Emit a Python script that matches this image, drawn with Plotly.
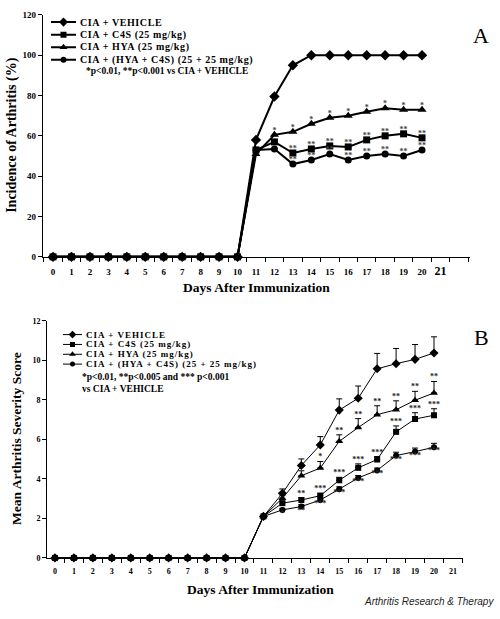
import plotly.graph_objects as go

# ---------------- data ----------------
days = [0, 1, 2, 3, 4, 5, 6, 7, 8, 9, 10, 11, 12, 13, 14, 15, 16, 17, 18, 19, 20]
x_tick_days = [0, 1, 2, 3, 4, 5, 6, 7, 8, 9, 10, 11, 12, 13, 14, 15, 16, 17, 18, 19, 20, 21]
series_names = ["CIA + VEHICLE", "CIA + C4S (25 mg/kg)", "CIA + HYA (25 mg/kg)",
                "CIA + (HYA + C4S) (25 + 25 mg/kg)"]

# Panel A: incidence of arthritis (%)
incA_vehicle = [0, 0, 0, 0, 0, 0, 0, 0, 0, 0, 0, 58, 79.5, 95, 100, 100, 100, 100, 100, 100, 100]
incA_c4s = [0, 0, 0, 0, 0, 0, 0, 0, 0, 0, 0, 53, 57, 51.5, 53.5, 55, 54.5, 58, 60, 61, 59]
incA_hya = [0, 0, 0, 0, 0, 0, 0, 0, 0, 0, 0, 51, 60.5, 62, 66, 69, 70, 72, 73.7, 73, 73]
incA_combo = [0, 0, 0, 0, 0, 0, 0, 0, 0, 0, 0, 53, 53.5, 46, 48, 51, 48, 50, 51, 50, 53]

sigA_c4s = ["", "", "", "", "", "", "", "", "", "", "", "", "", "**", "**", "**", "**", "**", "**", "**", "**"]
sigA_hya = ["", "", "", "", "", "", "", "", "", "", "", "", "*", "*", "*", "*", "*", "*", "*", "*", "*"]
sigA_combo = ["", "", "", "", "", "", "", "", "", "", "", "", "", "**", "**", "**", "**", "**", "**", "**", "**"]

# Panel B: mean arthritis severity score (+ upper SEM)
sevB_vehicle = [0, 0, 0, 0, 0, 0, 0, 0, 0, 0, 0, 2.1, 3.27, 4.68, 5.72, 7.48, 8.08, 9.57, 9.83, 10.05, 10.37]
sevB_c4s = [0, 0, 0, 0, 0, 0, 0, 0, 0, 0, 0, 2.1, 2.77, 2.93, 3.15, 3.93, 4.56, 4.98, 6.38, 7.03, 7.22]
sevB_hya = [0, 0, 0, 0, 0, 0, 0, 0, 0, 0, 0, 2.1, 3.02, 4.16, 4.55, 5.9, 6.6, 7.25, 7.5, 7.98, 8.35]
sevB_combo = [0, 0, 0, 0, 0, 0, 0, 0, 0, 0, 0, 2.1, 2.43, 2.6, 2.93, 3.48, 4.05, 4.43, 5.18, 5.38, 5.6]

errB_vehicle = [None, None, None, None, None, None, None, None, None, None, None, None,
                0.22, 0.33, 0.42, 0.57, 0.62, 0.78, 0.77, 0.75, 0.82]
errB_c4s = [None, None, None, None, None, None, None, None, None, None, None, None,
            0.1, 0.12, 0.12, 0.15, 0.2, 0.15, 0.3, 0.32, 0.33]
errB_hya = [None, None, None, None, None, None, None, None, None, None, None, None,
            0.15, 0.25, 0.33, 0.33, 0.45, 0.45, 0.45, 0.45, 0.58]
errB_combo = [None, None, None, None, None, None, None, None, None, None, None, None,
              0.08, 0.1, 0.1, 0.12, 0.12, 0.12, 0.17, 0.18, 0.2]

sigB_c4s = ["", "", "", "", "", "", "", "", "", "", "", "", "", "**", "***", "***", "***", "***", "***", "***", "***"]
sigB_hya = ["", "", "", "", "", "", "", "", "", "", "", "", "", "", "*", "**", "**", "**", "**", "**", "**"]
sigB_combo = ["", "", "", "", "", "", "", "", "", "", "", "", "*", "**", "***", "***", "***", "***", "***", "***", "***"]

noteA = "*p<0.01, **p<0.001 vs CIA + VEHICLE"
noteB = ["*p<0.01, **p<0.005 and *** p<0.001", "vs CIA + VEHICLE"]

# ---------------- styling ----------------
SERIF = "Liberation Serif"
symbols = ["diamond", "square", "triangle-up", "circle"]
sizesA = [8, 7, 8, 7]
sizesB = [7, 6, 7, 6]

fig = go.Figure()

A_vals = [incA_vehicle, incA_c4s, incA_hya, incA_combo]
B_vals = [sevB_vehicle, sevB_c4s, sevB_hya, sevB_combo]
B_errs = [errB_vehicle, errB_c4s, errB_hya, errB_combo]
draw_order = [0, 2, 3, 1]

for i in draw_order:
    fig.add_trace(go.Scatter(x=days, y=A_vals[i], mode="lines+markers", name=series_names[i],
                             line=dict(color="black", width=2),
                             marker=dict(symbol=symbols[i], size=sizesA[i], color="black"),
                             cliponaxis=False, showlegend=False, xaxis="x", yaxis="y"))

for i in draw_order:
    e = B_errs[i]
    fig.add_trace(go.Scatter(x=days, y=B_vals[i], mode="lines+markers", name=series_names[i],
                             line=dict(color="black", width=1),
                             marker=dict(symbol=symbols[i], size=sizesB[i], color="black"),
                             error_y=dict(type="data", symmetric=False, array=e,
                                          arrayminus=[0 if v is not None else None for v in e],
                                          width=3, thickness=1, color="black"),
                             cliponaxis=False, showlegend=False, xaxis="x2", yaxis="y2"))

sig_font = dict(family=SERIF, size=8, color="#444", weight="bold")
for vals, sig, pos in [(incA_hya, sigA_hya, "top center"), (incA_c4s, sigA_c4s, "top center"),
                       (incA_combo, sigA_combo, "top center")]:
    fig.add_trace(go.Scatter(x=days, y=vals, mode="text", text=sig, textposition=pos,
                             textfont=sig_font, cliponaxis=False, showlegend=False,
                             hoverinfo="skip", xaxis="x", yaxis="y"))

sig_fontB = dict(family=SERIF, size=8, color="#222", weight="bold")
top_hya = [v + (e if e is not None else 0) for v, e in zip(sevB_hya, errB_hya)]
top_c4s = [v + (e if e is not None else 0) for v, e in zip(sevB_c4s, errB_c4s)]
for vals, sig, pos in [(top_hya, sigB_hya, "top center"), (top_c4s, sigB_c4s, "top center"),
                       (sevB_combo, sigB_combo, "bottom center")]:
    fig.add_trace(go.Scatter(x=days, y=vals, mode="text", text=sig, textposition=pos,
                             textfont=sig_fontB, cliponaxis=False, showlegend=False,
                             hoverinfo="skip", xaxis="x2", yaxis="y2"))

# ---------------- custom legends (series index on hidden axes) ----------------
rows = list(range(len(series_names)))
for ax, lw, msz in [("3", 2, sizesA), ("4", 1, sizesB)]:
    for i in rows:
        fig.add_trace(go.Scatter(x=[0, 1], y=[i, i], mode="lines", line=dict(color="black", width=lw),
                                 showlegend=False, hoverinfo="skip", xaxis="x" + ax, yaxis="y" + ax))
        fig.add_trace(go.Scatter(x=[0.5], y=[i], mode="markers",
                                 marker=dict(symbol=symbols[i], size=msz[i] - 1, color="black"),
                                 showlegend=False, hoverinfo="skip", xaxis="x" + ax, yaxis="y" + ax))

annotations = []
for i in rows:
    annotations.append(dict(x=1, y=i, xref="x3", yref="y3", xanchor="left", yanchor="middle",
                            xshift=2, showarrow=False,
                            text="<span style='letter-spacing:0.6px'>" + series_names[i] + "</span>",
                            font=dict(family=SERIF, size=10, color="black", weight="bold")))
    annotations.append(dict(x=1, y=i, xref="x4", yref="y4", xanchor="left", yanchor="middle",
                            xshift=2, showarrow=False,
                            text="<span style='letter-spacing:1px'>" + series_names[i] + "</span>",
                            font=dict(family=SERIF, size=9, color="black", weight="bold")))

annotations += [
    dict(x=84 / 500, y=1 - 67 / 619, xref="paper", yref="paper", xanchor="left", yanchor="middle",
         showarrow=False, text=noteA, font=dict(family=SERIF, size=9.5, color="black", weight="bold")),
    dict(x=80 / 500, y=1 - 378 / 619, xref="paper", yref="paper", xanchor="left", yanchor="middle",
         showarrow=False, text=noteB[0], font=dict(family=SERIF, size=9.5, color="black", weight="bold")),
    dict(x=80 / 500, y=1 - 390 / 619, xref="paper", yref="paper", xanchor="left", yanchor="middle",
         showarrow=False, text=noteB[1], font=dict(family=SERIF, size=9.5, color="black", weight="bold")),
    # axis titles
    dict(x=12 / 500, y=1 - 133 / 619, xref="paper", yref="paper", xanchor="center", yanchor="middle",
         textangle=-90, showarrow=False,
         text="Incidence of Arthritis (%)", font=dict(family=SERIF, size=14, color="black", weight="bold")),
    dict(x=256 / 500, y=1 - 287 / 619, xref="paper", yref="paper", xanchor="center", yanchor="middle",
         showarrow=False,
         text="Days After Immunization", font=dict(family=SERIF, size=13.5, color="black", weight="bold")),
    dict(x=17 / 500, y=1 - 441 / 619, xref="paper", yref="paper", xanchor="center", yanchor="middle",
         textangle=-90, showarrow=False,
         text="Mean Arthritis Severity Score", font=dict(family=SERIF, size=13.5, color="black", weight="bold")),
    dict(x=260 / 500, y=1 - 594 / 619, xref="paper", yref="paper", xanchor="center", yanchor="middle",
         showarrow=False,
         text="Days After Immunization", font=dict(family=SERIF, size=13.5, color="black", weight="bold")),
    # panel letters
    dict(x=481 / 500, y=1 - 31 / 619, xref="paper", yref="paper", xanchor="center", yanchor="middle",
         showarrow=False, text="A", font=dict(family=SERIF, size=22, color="black")),
    dict(x=481 / 500, y=1 - 338 / 619, xref="paper", yref="paper", xanchor="center", yanchor="middle",
         showarrow=False, text="B", font=dict(family=SERIF, size=22, color="black")),
    # credit
    dict(x=496 / 500, y=1 - 606 / 619, xref="paper", yref="paper", xanchor="right", yanchor="middle",
         showarrow=False, text="<i>Arthritis Research &amp; Therapy</i>",
         font=dict(family="Liberation Sans", size=10, color="#222")),
]

tick_font = dict(family=SERIF, size=9, color="black", weight="bold")
tick_fontB = dict(family=SERIF, size=8, color="black", weight="bold")
ticktextA = [str(d) for d in x_tick_days[:-1]] + ["<span style='font-size:12px'>21</span>"]
half_ticks = [d - 0.5 for d in x_tick_days] + [21.5, 22.5]

common_x = dict(showgrid=False, zeroline=False, showline=True, linecolor="black", linewidth=1,
                ticks="outside", tickcolor="rgba(0,0,0,0)", tickmode="array", tickvals=x_tick_days)
common_y = dict(showgrid=False, zeroline=False, showline=True, linecolor="black", linewidth=1,
                ticks="outside", ticklen=4, tickcolor="black", tickwidth=1, tickmode="array")

fig.update_layout(
    width=500, height=619, margin=dict(l=0, r=0, t=0, b=0),
    paper_bgcolor="white", plot_bgcolor="white", showlegend=False,
    xaxis=dict(**common_x, domain=[42.7 / 500, 470 / 500], range=[-0.56, 22.6], anchor="y",
               ticktext=ticktextA, ticklen=6, tickfont=tick_font,
               minor=dict(tickvals=half_ticks, ticks="outside", ticklen=4, tickcolor="black", tickwidth=1)),
    yaxis=dict(**common_y, domain=[1 - 256 / 619, 1 - 10 / 619], range=[0, 120], anchor="x",
               tickvals=[0, 20, 40, 60, 80, 100, 120], tickfont=tick_font),
    xaxis2=dict(**common_x, domain=[47 / 500, 463 / 500], range=[-0.42, 21.53], anchor="y2",
                ticktext=[str(d) for d in x_tick_days], ticklen=5, tickfont=tick_fontB,
                minor=dict(tickvals=half_ticks, ticks="outside", ticklen=4, tickcolor="black", tickwidth=1)),
    yaxis2=dict(**common_y, domain=[1 - 562 / 619, 1 - 321 / 619], range=[0, 12], anchor="x2",
                tickvals=[0, 2, 4, 6, 8, 10, 12], tickfont=tick_fontB),
    xaxis3=dict(visible=False, domain=[51 / 500, 76 / 500], range=[0, 1], anchor="y3"),
    yaxis3=dict(visible=False, domain=[1 - 62 / 619, 1 - 11 / 619], range=[3.5, -0.5], anchor="x3"),
    xaxis4=dict(visible=False, domain=[63 / 500, 82 / 500], range=[0, 1], anchor="y4"),
    yaxis4=dict(visible=False, domain=[1 - 370 / 619, 1 - 330 / 619], range=[3.5, -0.5], anchor="x4"),
    annotations=annotations,
)

fig.write_html("out.html", config={"displayModeBar": False},
               post_script="document.body.style.margin='0';document.body.style.overflow='hidden';")
